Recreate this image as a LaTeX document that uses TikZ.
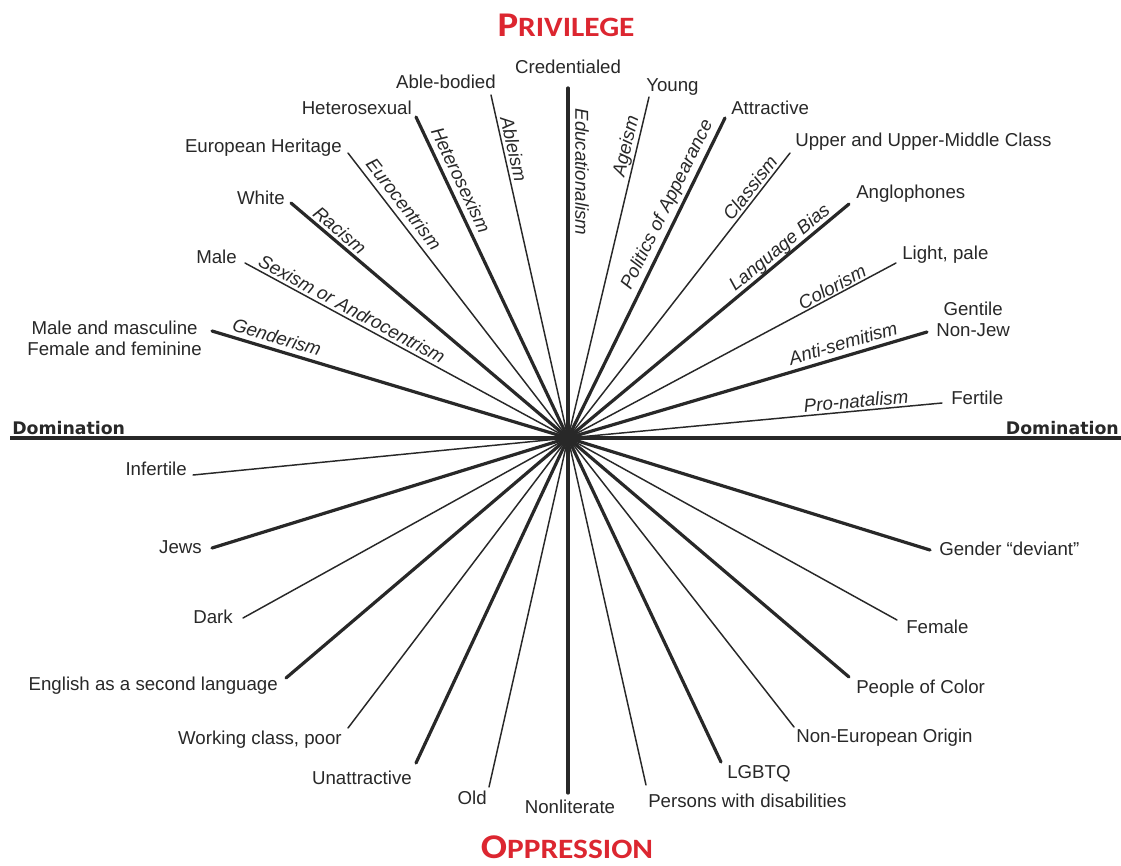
\documentclass[tikz,border=0pt]{standalone}
\usepackage{fontspec}
\setmainfont{Liberation Sans}
\newfontfamily\titlefont{Carlito}
\newfontfamily\domfont{DejaVu Sans}
\definecolor{titlered}{RGB}{220,38,48}
\definecolor{ink}{RGB}{40,40,40}
\begin{document}
\begin{tikzpicture}[x=0.75pt,y=-0.75pt,
  thickspoke/.style={line width=2.4pt, draw=ink, line cap=round},
  thinspoke/.style={line width=1.1pt, draw=ink, line cap=round},
  axis/.style={line width=2.4pt, draw=ink},
  lbl/.style={font=\fontsize{14}{16}\selectfont, text=ink, inner sep=0pt, text height=10pt, text depth=0pt},
  lbltwo/.style={font=\fontsize{14}{16}\selectfont, text=ink, inner sep=0pt, align=center},
  ism/.style={font=\fontsize{14}{16}\selectfont\itshape, text=ink, inner sep=0pt, text height=10pt, text depth=0pt},
  ttl/.style={font=\titlefont\bfseries, text=titlered, inner sep=0pt, xscale=1.12},
  dom/.style={font=\domfont\bfseries\fontsize{13}{15}\selectfont, text=ink, inner sep=0pt}]
\useasboundingbox (0,0) rectangle (1121,865);
\fill[white] (0,0) rectangle (1121,865);
\coordinate (C) at (568,438);
% axis
\coordinate (hl) at (10,438);
\coordinate (hr) at (1121,438);
\draw[axis] (hl) -- (hr);
\node[dom, anchor=base west] (domL) at (12,434) {\underline{Domination}};
\node[dom, anchor=base east] (domR) at (1119,434) {\underline{Domination}};
% titles
\node[ttl, anchor=base] (priv) at (566,36) {{\fontsize{26}{26}\selectfont P}{\fontsize{21}{21}\selectfont RIVILEGE}};
\node[ttl, anchor=base] (oppr) at (567,858) {{\fontsize{26}{26}\selectfont O}{\fontsize{21}{21}\selectfont PPRESSION}};
% spoke end points
\coordinate (pGender) at (212,331);
\coordinate (pMale) at (245,263);
\coordinate (pWhite) at (291,203);
\coordinate (pEuro) at (348,153);
\coordinate (pHetero) at (416,117);
\coordinate (pAble) at (491,95);
\coordinate (pCred) at (568,88);
\coordinate (pYoung) at (649,97);
\coordinate (pAttr) at (725,118);
\coordinate (pUpper) at (790,153);
\coordinate (pAnglo) at (849,204);
\coordinate (pLight) at (896,263);
\coordinate (pGentile) at (927,332);
\coordinate (pFertile) at (942,403);
\coordinate (pInfertile) at (193,475);
\coordinate (pJews) at (212,548);
\coordinate (pDark) at (243,618);
\coordinate (pEsl) at (286,678);
\coordinate (pWorking) at (348,728);
\coordinate (pUnattr) at (416,763);
\coordinate (pOld) at (489,787);
\coordinate (pNonlit) at (568,793);
\coordinate (pPwd) at (646,785);
\coordinate (pLgbtq) at (721,762);
\coordinate (pNoneuro) at (794,727);
\coordinate (pPoc) at (849,677);
\coordinate (pFemale) at (897,620);
\coordinate (pGdev) at (930,550);
% spokes
\foreach \p in {pGender,pWhite,pHetero,pCred,pAttr,pAnglo,pGentile,pJews,pEsl,pUnattr,pNonlit,pLgbtq,pPoc,pGdev}
  \draw[thickspoke] (C) -- (\p);
\foreach \p in {pMale,pEuro,pAble,pYoung,pUpper,pLight,pFertile,pInfertile,pDark,pWorking,pOld,pPwd,pNoneuro,pFemale}
  \draw[thinspoke] (C) -- (\p);
% end labels, upper half
\node[lbltwo, anchor=east] (lGender) at (202,338) {Male and masculine\\Female and feminine};
\node[lbl, anchor=east] (lMale) at (237,257) {Male};
\node[lbl, anchor=east] (lWhite) at (285,198) {White};
\node[lbl, anchor=east] (lEuro) at (342,146) {European Heritage};
\node[lbl, anchor=east] (lHetero) at (412,108) {Heterosexual};
\node[lbl, anchor=east] (lAble) at (496,82) {Able-bodied};
\node[lbl] (lCred) at (568,67) {Credentialed};
\node[lbl, anchor=west] (lYoung) at (646,85) {Young};
\node[lbl, anchor=west] (lAttr) at (731,108) {Attractive};
\node[lbl, anchor=west] (lUpper) at (795,140) {Upper and Upper-Middle Class};
\node[lbl, anchor=west] (lAnglo) at (856,192) {Anglophones};
\node[lbl, anchor=west] (lLight) at (902,253) {Light, pale};
\node[lbltwo, anchor=west] (lGentile) at (936,319) {Gentile\\Non-Jew};
\node[lbl, anchor=west] (lFertile) at (951,398) {Fertile};
% end labels, lower half
\node[lbl, anchor=east] (lInfertile) at (187,469) {Infertile};
\node[lbl, anchor=east] (lJews) at (202,547) {Jews};
\node[lbl, anchor=east] (lDark) at (233,617) {Dark};
\node[lbl, anchor=east] (lEsl) at (278,684) {English as a second language};
\node[lbl, anchor=east] (lWorking) at (342,738) {Working class, poor};
\node[lbl, anchor=east] (lUnattr) at (412,778) {Unattractive};
\node[lbl, anchor=east] (lOld) at (487,798) {Old};
\node[lbl] (lNonlit) at (570,807) {Nonliterate};
\node[lbl, anchor=west] (lPwd) at (648,801) {Persons with disabilities};
\node[lbl, anchor=west] (lLgbtq) at (727,772) {LGBTQ};
\node[lbl, anchor=west] (lNoneuro) at (796,736) {Non-European Origin};
\node[lbl, anchor=west] (lPoc) at (856,687) {People of Color};
\node[lbl, anchor=west] (lFemale) at (906,627) {Female};
\node[lbl, anchor=west] (lGdev) at (939,549) {Gender “deviant”};
% -ism labels
\node[ism, rotate=-16.6] (iGender) at (277,337) {Genderism};
\node[ism, rotate=-28.3] (iSex) at (352,309) {Sexism or Androcentrism};
\node[ism, rotate=-40.2] (iRace) at (340,230) {Racism};
\node[ism, rotate=-52.2] (iEuro) at (404,204) {Eurocentrism};
\node[ism, rotate=-64.6] (iHetero) at (461,180) {Heterosexism};
\node[ism, rotate=-77.3] (iAble) at (514,149) {Ableism};
\node[ism, rotate=-90] (iEdu) at (582,172) {Educationalism};
\node[ism, rotate=76.6] (iAge) at (625,146) {Ageism};
\node[ism, rotate=63.8] (iPol) at (666,204) {Politics of Appearance};
\node[ism, rotate=52] (iClass) at (750,188) {Classism};
\node[ism, rotate=39.7] (iLang) at (779,247) {Language Bias};
\node[ism, rotate=27.9] (iColor) at (832,287) {Colorism};
\node[ism, rotate=16.3] (iAnti) at (843,343) {Anti-semitism};
\node[ism, rotate=5.2] (iPro) at (856,401) {Pro-natalism};
\end{tikzpicture}
\end{document}
